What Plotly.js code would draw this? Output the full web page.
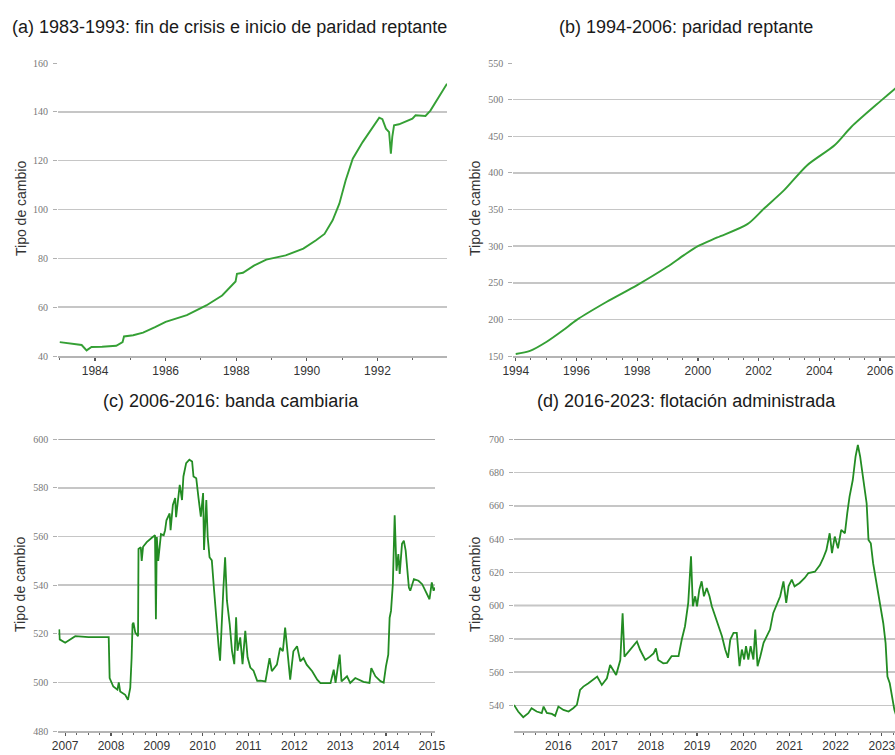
<!DOCTYPE html>
<html>
<head>
<meta charset="utf-8">
<script src="https://cdn.plot.ly/plotly-3.0.1.min.js"></script>
<style>
html,body{margin:0;padding:0;overflow:hidden;width:895px;height:755px;background:#fff;}
#chart{width:960px;height:755px;}
</style>
</head>
<body>
<div id="chart"></div>
<script>
// ---------- DATA ----------
const panelTitles = [
  "(a) 1983-1993: fin de crisis e inicio de paridad reptante",
  "(b) 1994-2006: paridad reptante",
  "(c) 2006-2016: banda cambiaria",
  "(d) 2016-2023: flotación administrada"
];
const yTitle = "Tipo de cambio";

const yearsA = [1983.0,1983.3,1983.48,1983.62,1983.76,1983.9,1984.2,1984.6,1984.78,1984.82,
  1985.08,1985.36,1985.7,1986.0,1986.6,1987.15,1987.6,1987.9,1987.98,1988.02,
  1988.19,1988.5,1988.85,1989.4,1989.9,1990.26,1990.5,1990.73,1990.92,1991.1,
  1991.3,1991.58,1991.95,1992.05,1992.14,1992.24,1992.33,1992.38,1992.42,1992.47,
  1992.61,1992.99,1993.08,1993.36,1993.5,1993.97];
const tcA = [45.7,45.2,44.8,44.5,42.3,43.7,43.8,44.2,45.7,48,
  48.5,49.6,51.8,54,56.7,60.7,64.8,69.6,70.5,73.7,
  74.1,77,79.5,81.2,84,87.4,90,95.6,102.4,112,
  120.8,127.6,135.8,137.6,137,133.1,131.7,122.9,129.7,134.5,
  134.9,137.2,138.6,138.3,140.5,151.5];

const yearsB = [1994.0,1994.47,1995.02,1995.57,1996.0,1997.0,1998.0,1998.99,1999.54,2000.0,
  2000.64,2001.63,2002.18,2002.84,2003.6,2004.5,2005.05,2006.04,2006.53,2006.82];
const tcB = [152.7,157,169.5,185.5,199,224,246.8,271.8,287.7,300,
  311.8,330,351.4,376.4,410.5,437.7,462.7,499,516.4,527];

const yearsC = [2006.87,2006.88,2007.0,2007.11,2007.22,2007.51,2007.95,2007.97,2008.05,2008.14,
  2008.17,2008.2,2008.28,2008.31,2008.37,2008.42,2008.45,2008.47,2008.49,2008.53,
  2008.59,2008.6,2008.65,2008.67,2008.7,2008.78,2008.89,2008.96,2008.98,2009.0,
  2009.03,2009.09,2009.15,2009.18,2009.21,2009.28,2009.3,2009.35,2009.4,2009.42,
  2009.5,2009.55,2009.58,2009.64,2009.71,2009.77,2009.8,2009.86,2009.91,2009.96,
  2010.01,2010.03,2010.08,2010.11,2010.15,2010.2,2010.25,2010.3,2010.35,2010.38,
  2010.42,2010.45,2010.49,2010.53,2010.59,2010.64,2010.69,2010.73,2010.76,2010.82,
  2010.87,2010.93,2010.98,2011.04,2011.11,2011.19,2011.26,2011.37,2011.46,2011.51,
  2011.62,2011.69,2011.75,2011.8,2011.85,2011.91,2011.98,2012.06,2012.13,2012.2,
  2012.27,2012.39,2012.5,2012.57,2012.79,2012.86,2012.9,2012.99,2013.03,2013.15,
  2013.22,2013.33,2013.51,2013.64,2013.68,2013.77,2013.88,2013.95,2014.0,2014.05,
  2014.08,2014.11,2014.15,2014.19,2014.23,2014.27,2014.3,2014.35,2014.39,2014.43,
  2014.5,2014.53,2014.61,2014.71,2014.79,2014.86,2014.95,2015.0,2015.04,2015.07];
const tcC = [521.8,517.7,516.3,517.7,519,518.6,518.6,501.8,498.3,497,
  500,496.3,495.5,494.9,492.8,497.7,510,523.9,524.6,520.5,
  519,554.9,555.6,550,555.8,557.7,559.5,560.5,526,559.8,
  550,561,560.5,562.6,566.7,569.5,562.6,573,575.8,568,
  581.3,575,584.7,590.2,591.6,590.9,584.7,584,575.8,568.2,
  577.9,554.5,575,559.8,551.5,550.2,537.8,524,514.4,508.9,
  529.5,537.8,551.5,533.6,524,513,507.5,526.8,513,518.5,
  507.5,521.2,510.3,506.1,504.8,500.6,500.7,500.4,510,504.6,
  507.3,514.2,512.8,522.5,512.8,501.1,512.8,514.9,508.7,510,
  507.3,504.6,501.1,499.7,499.7,505.2,499.8,511.4,500.4,502.5,
  499.8,501.8,500.2,499.8,505.9,502.5,500.5,499.9,506.6,511.4,
  526.6,529.4,540.4,568.7,545.9,552.8,544.6,557,558.3,554.2,
  539,537.7,542.5,541.8,540.4,537.7,534.2,541.1,537.7,539];

const yearsD = [2015.04,2015.13,2015.24,2015.35,2015.42,2015.53,2015.64,2015.68,2015.75,2015.86,
  2015.93,2016.0,2016.11,2016.22,2016.32,2016.4,2016.47,2016.54,2016.65,2016.76,
  2016.84,2016.94,2017.05,2017.12,2017.19,2017.25,2017.34,2017.39,2017.43,2017.52,
  2017.62,2017.7,2017.77,2017.88,2017.98,2018.06,2018.11,2018.16,2018.27,2018.35,
  2018.45,2018.6,2018.67,2018.74,2018.81,2018.87,2018.91,2018.96,2019.0,2019.05,
  2019.1,2019.15,2019.21,2019.27,2019.32,2019.39,2019.46,2019.54,2019.61,2019.67,
  2019.72,2019.79,2019.86,2019.92,2019.97,2020.02,2020.06,2020.11,2020.16,2020.22,
  2020.26,2020.31,2020.37,2020.44,2020.51,2020.58,2020.65,2020.73,2020.8,2020.87,
  2020.93,2020.98,2021.05,2021.11,2021.22,2021.33,2021.41,2021.55,2021.66,2021.73,
  2021.8,2021.87,2021.92,2021.98,2022.05,2022.12,2022.2,2022.25,2022.3,2022.37,
  2022.43,2022.48,2022.53,2022.6,2022.67,2022.71,2022.76,2022.81,2022.88,2022.96,
  2023.03,2023.08,2023.12,2023.17,2023.24,2023.27,2023.32];
const tcD = [540.3,536.3,532.9,535.3,538.3,536.3,535.3,539.3,535.5,534.9,
  533.7,539.3,537.3,536.3,538.3,540.3,549.3,551.3,553.3,555.3,
  557.3,552.3,556.3,564.3,561.3,558.3,567.3,595.4,569.3,572.3,
  575.4,578.4,573.3,567.3,569.3,571.3,574.3,567.3,565.3,565.6,
  569.6,569.6,579.6,587.6,601.6,629.6,599.6,605.6,599.6,609.6,
  614.6,605.6,610.6,605.6,599.6,593.6,587.6,581.6,573.6,568.6,
  579.6,583.6,583.6,563.6,573.6,567.6,575.6,567.6,575.6,567.6,
  585.6,563.6,569.6,577.6,581.6,585.6,595.6,601.6,605.6,614.6,
  601.6,611.6,615.6,611.6,613.6,616.6,619.6,620.4,624.4,628.5,
  633.5,643.5,631.5,641.5,634.5,645.5,643.5,655.5,665.5,675.5,
  689.6,696.6,689.6,675.5,661.5,639.5,637.5,625.5,613.4,601.4,
  589.4,577.4,557.3,553.3,541.3,537.3,533];

// ---------- LAYOUT (pixel geometry) ----------
const W = 960, H = 755;
const fx = p => p / W;
const fy = p => 1 - p / H;

const green1 = '#35a035';
const green2 = '#238c23';

const traces = [
  {x: yearsA, y: tcA, xaxis: 'x', yaxis: 'y', type: 'scatter', mode: 'lines', line: {color: green1, width: 1.9}},
  {x: yearsB, y: tcB, xaxis: 'x2', yaxis: 'y2', type: 'scatter', mode: 'lines', line: {color: green1, width: 1.9, shape: 'spline', smoothing: 0.8}},
  {x: yearsC, y: tcC, xaxis: 'x3', yaxis: 'y3', type: 'scatter', mode: 'lines', line: {color: green2, width: 1.8}},
  {x: yearsD, y: tcD, xaxis: 'x4', yaxis: 'y4', type: 'scatter', mode: 'lines', line: {color: green2, width: 1.8}}
];

function xax(domain, range, dtick, tick0, minorDtick, anchor) {
  return {
    domain: domain, range: range, anchor: anchor,
    dtick: dtick, tick0: tick0, tickmode: 'linear',
    showgrid: false, zeroline: false,
    showline: true, linecolor: '#b4b4b4', linewidth: 1.5,
    ticks: 'outside', ticklen: 3, tickwidth: 1.2, tickcolor: '#555',
    minor: {ticks: 'outside', ticklen: 2, tickwidth: 1, tickcolor: '#666', dtick: minorDtick, tick0: tick0, showgrid: false},
    tickfont: {family: 'Liberation Sans, Arial, sans-serif', size: 12, color: '#333'},
    fixedrange: true
  };
}
function yax(domain, range, dtick, anchor) {
  return {
    domain: domain, range: range, anchor: anchor,
    dtick: dtick, tick0: 0, tickmode: 'linear',
    showgrid: true, gridcolor: '#c6c6c6', gridwidth: 1.5,
    zeroline: false, showline: false,
    ticks: 'outside', ticklen: 4, tickwidth: 1, tickcolor: '#b0b0b0',
    ticklabelstandoff: 3,
    tickfont: {family: 'Liberation Serif, Times New Roman, serif', size: 10, color: '#777'},
    fixedrange: true
  };
}

const topY = [fy(356), fy(63)];
const botY = [fy(731), fy(439.3)];

const darkLines = [['y', 140], ['y', 60], ['y3', 520], ['y3', 600], ['y4', 600], ['y4', 560], ['y4', 700]];
const xForY = {y: 'x', y3: 'x3', y4: 'x4'};
const shapes = darkLines.map(d => ({
  type: 'line', layer: 'below', xref: xForY[d[0]] + ' domain', yref: d[0],
  x0: 0, x1: 1, y0: d[1], y1: d[1], line: {color: '#8c8c8c', width: 1.5}
}));

const titleFont = {family: 'Liberation Sans, Arial, sans-serif', size: 18, color: '#1a1a1a'};
const yTitleFont = {family: 'Liberation Sans, Arial, sans-serif', size: 14, color: '#333'};
const titlePos = [[229, 27], [686, 27], [231, 401], [686, 401]];
const yTitlePos = [[21, 209], [475, 209], [20, 585], [475, 585]];

const annotations = [];
panelTitles.forEach((t, i) => annotations.push({
  text: t, xref: 'paper', yref: 'paper', x: fx(titlePos[i][0]), y: fy(titlePos[i][1]),
  xanchor: 'center', yanchor: 'middle', showarrow: false, font: titleFont
}));
yTitlePos.forEach(p => annotations.push({
  text: yTitle, xref: 'paper', yref: 'paper', x: fx(p[0]), y: fy(p[1]),
  xanchor: 'center', yanchor: 'middle', textangle: -90, showarrow: false, font: yTitleFont
}));

const layout = {
  width: W, height: H,
  margin: {l: 0, r: 0, t: 0, b: 0},
  paper_bgcolor: '#ffffff', plot_bgcolor: '#ffffff',
  showlegend: false,
  xaxis: xax([fx(58), fx(447)], [1982.95, 1993.97], 2, 1984, 1, 'y'),
  yaxis: yax(topY, [40, 160], 20, 'x'),
  xaxis2: xax([fx(513.3), fx(905)], [1993.92, 2006.82], 2, 1994, 0.5, 'y2'),
  yaxis2: yax(topY, [150, 550], 50, 'x2'),
  xaxis3: xax([fx(58.3), fx(435)], [2006.85, 2015.07], 1, 2007, 0.25, 'y3'),
  yaxis3: yax(botY, [480, 600], 20, 'x3'),
  xaxis4: xax([fx(514), fx(905)], [2015.04, 2023.5], 1, 2016, 0.25, 'y4'),
  yaxis4: yax(botY, [524.6, 700], 20, 'x4'),
  shapes: shapes,
  annotations: annotations
};

Plotly.newPlot('chart', traces, layout, {displayModeBar: false, staticPlot: true});
</script>
</body>
</html>
